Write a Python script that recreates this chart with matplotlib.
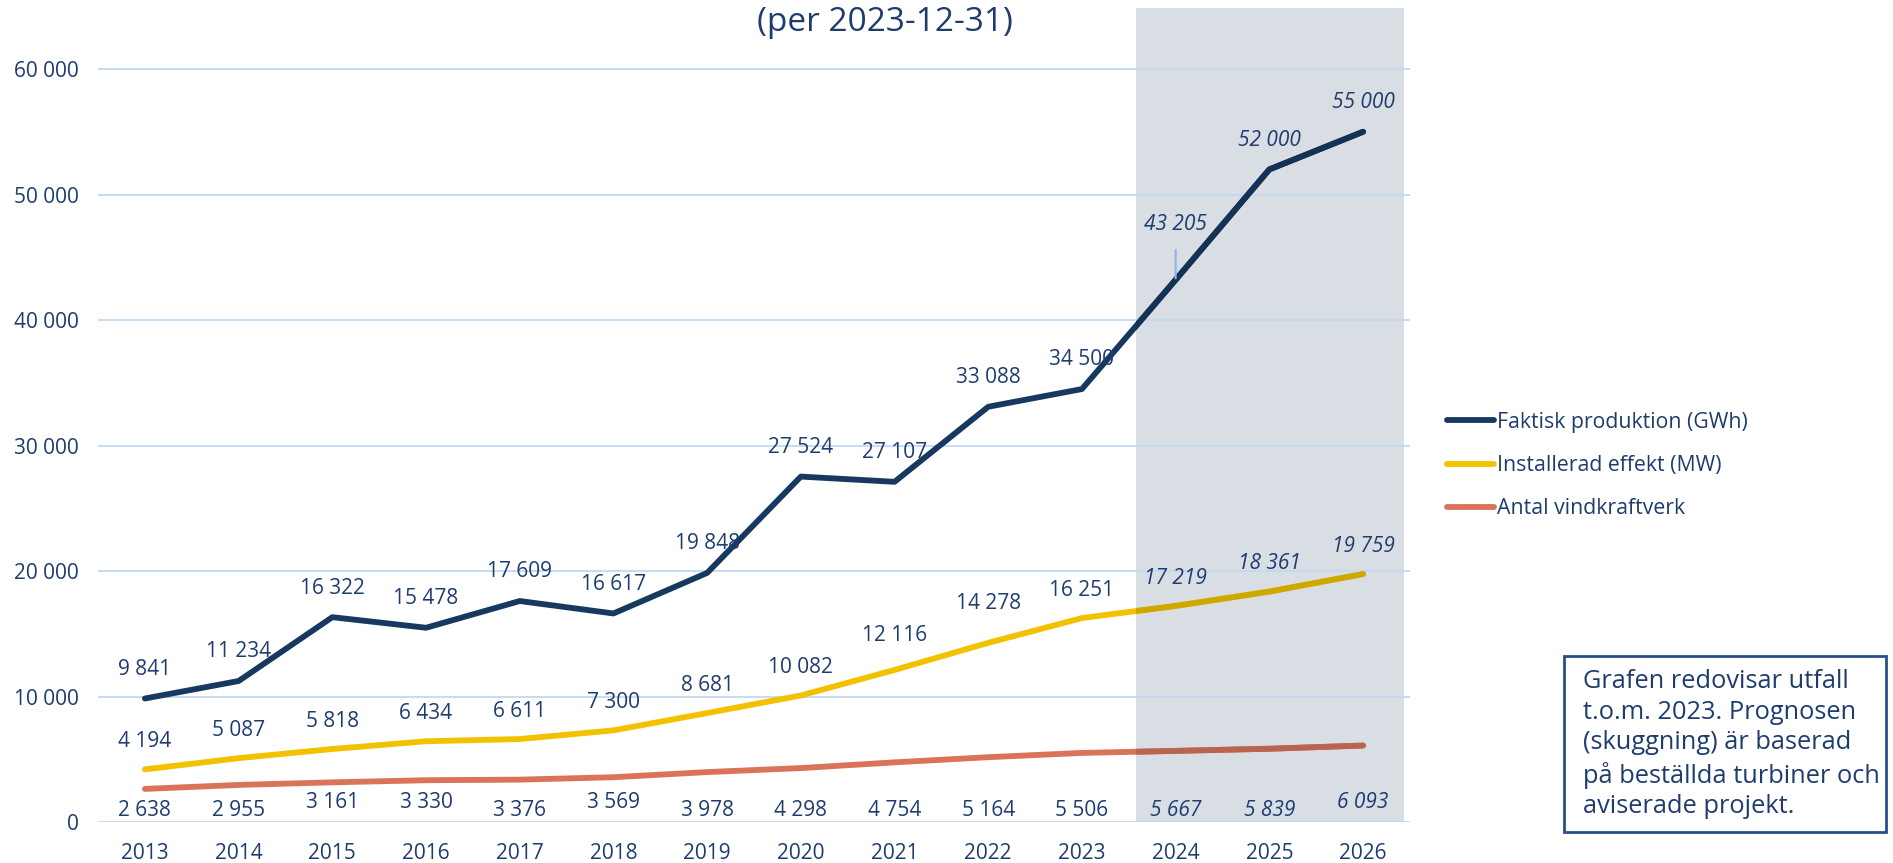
import matplotlib.pyplot as plt
from matplotlib.patches import Rectangle
from matplotlib.ticker import FuncFormatter

plt.rcParams["font.family"] = ["Open Sans", "DejaVu Sans"]

years = [2013, 2014, 2015, 2016, 2017, 2018, 2019, 2020, 2021, 2022, 2023, 2024, 2025, 2026]
produktion = [9841, 11234, 16322, 15478, 17609, 16617, 19848, 27524, 27107, 33088, 34500, 43205, 52000, 55000]
effekt = [4194, 5087, 5818, 6434, 6611, 7300, 8681, 10082, 12116, 14278, 16251, 17219, 18361, 19759]
antal = [2638, 2955, 3161, 3330, 3376, 3569, 3978, 4298, 4754, 5164, 5506, 5667, 5839, 6093]
first_forecast = 2024

NAVY = "#18395f"
YELLOW = "#f2c200"
SALMON = "#d9735a"
SHADE = "#d8dee4"
TXT = "#1f3c6e"
GRID = "#c2d9f2"


def fmt(v):
    return f"{v:,.0f}".replace(",", " ")


def multiply(c1, c2):
    a = plt.matplotlib.colors.to_rgb(c1)
    b = plt.matplotlib.colors.to_rgb(c2)
    return tuple(p * q for p, q in zip(a, b))


fig = plt.figure(figsize=(18.93, 8.63), dpi=100)
ax = fig.add_axes([0.0518, 0.0475, 0.693, 0.9525])
x = list(range(len(years)))

# forecast shading (acts like a multiply layer over the lines)
shade = Rectangle((10.58, 0), 13.44 - 10.58, 64860, facecolor=SHADE,
                  edgecolor="none", zorder=0.3)
ax.add_patch(shade)

series = [
    (produktion, NAVY, "Faktisk produktion (GWh)"),
    (effekt, YELLOW, "Installerad effekt (MW)"),
    (antal, SALMON, "Antal vindkraftverk"),
]
for vals, col, lab in series:
    ax.plot(x, vals, color=col, lw=4.2, label=lab, zorder=2,
            solid_joinstyle="round", solid_capstyle="round")
    dark, = ax.plot(x, vals, color=multiply(col, SHADE), lw=4.2, zorder=2.1,
                    solid_joinstyle="round", solid_capstyle="round")
    dark.set_clip_path(shade)


def style(yr):
    return "italic" if yr >= first_forecast else "normal"


# data labels
for xi, yr, v in zip(x, years, produktion):
    if yr == 2024:
        ax.annotate(fmt(v), (xi, v), xytext=(0, 40), textcoords="offset points",
                    ha="center", va="center", fontsize=15, color=TXT,
                    style="italic", zorder=5,
                    arrowprops=dict(arrowstyle="-", color="#8db4e2", lw=1.5,
                                    shrinkA=9, shrinkB=1))
    else:
        ax.annotate(fmt(v), (xi, v), xytext=(0, 21), textcoords="offset points",
                    ha="center", va="center", fontsize=15, color=TXT,
                    style=style(yr), zorder=5)

eff_off = {2021: 25, 2022: 28}
for xi, yr, v in zip(x, years, effekt):
    ax.annotate(fmt(v), (xi, v), xytext=(0, eff_off.get(yr, 20)),
                textcoords="offset points", ha="center", va="center",
                fontsize=15, color=TXT, style=style(yr), zorder=5)

# antal labels sit in a row just above the x axis
raised = {2015, 2016, 2018, 2026}
for xi, yr, v in zip(x, years, antal):
    ax.annotate(fmt(v), (xi, 0), xytext=(0, 8 if yr not in raised else 14),
                textcoords="offset points", ha="center", va="center",
                fontsize=15, color=TXT, style=style(yr), zorder=5)

ax.set_xlim(-0.5, 13.5)
ax.set_ylim(0, 65500)
ax.set_yticks(range(0, 60001, 10000))
ax.yaxis.set_major_formatter(FuncFormatter(lambda v, p: fmt(v)))
ax.set_xticks(x)
ax.set_xticklabels([str(y) for y in years])
ax.grid(axis="y", color=GRID, lw=1.3, zorder=0.5)
ax.set_axisbelow(True)
for s in ax.spines.values():
    s.set_visible(False)
ax.tick_params(length=0, labelsize=15, labelcolor=TXT)
ax.tick_params(axis="y", pad=14)
ax.tick_params(axis="x", pad=15)

fig.text(0.4675, 0.9745, "(per 2023-12-31)", ha="center", va="center",
         fontsize=24, color=TXT)

leg = fig.legend(loc="upper left", bbox_to_anchor=(0.7543, 0.545), frameon=False,
                 fontsize=15.3, handlelength=2.2, handletextpad=0.15,
                 labelspacing=1.05, labelcolor=TXT)

fig.text(1583 / 1893, 1 - 669 / 863,
         "Grafen redovisar utfall\nt.o.m. 2023. Prognosen\n(skuggning) är baserad\n"
         "på beställda turbiner och\naviserade projekt.",
         ha="left", va="top", fontsize=18.3, color=TXT, linespacing=1.3)
fig.add_artist(Rectangle((1564 / 1893, 1 - 832 / 863), (1886 - 1564) / 1893,
                         (832 - 656) / 863, transform=fig.transFigure,
                         fill=False, edgecolor="#2a4e8a", lw=2))

fig.savefig("out.png", dpi=100)
